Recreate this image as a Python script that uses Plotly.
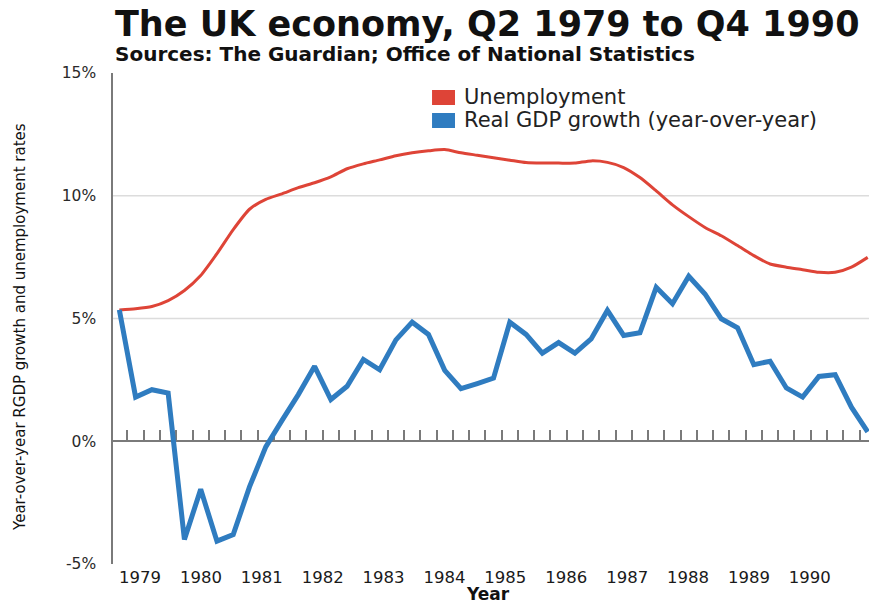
import plotly.graph_objects as go

# Quarterly series, Q2 1979 .. Q4 1990 (47 quarters)
quarters = [f"Q{q} {y}" for y in range(1979, 1991) for q in range(1, 5)][1:]

unemployment = [
    5.35, 5.40, 5.49, 5.73, 6.14, 6.75, 7.64, 8.62, 9.45, 9.85,
    10.08, 10.33, 10.53, 10.77, 11.10, 11.30, 11.46, 11.63, 11.75, 11.83,
    11.88, 11.75, 11.65, 11.55, 11.45, 11.35, 11.33, 11.33, 11.33, 11.42,
    11.36, 11.15, 10.74, 10.20, 9.63, 9.15, 8.71, 8.37, 7.97, 7.56,
    7.22, 7.09, 6.99, 6.88, 6.88, 7.09, 7.49,
]

gdp_growth = [
    5.35, 1.80, 2.10, 1.96, -4.00, -1.96, -4.07, -3.80, -1.86, -0.23,
    0.85, 1.90, 3.05, 1.70, 2.24, 3.33, 2.91, 4.13, 4.85, 4.35,
    2.89, 2.14, 2.35, 2.57, 4.85, 4.35, 3.59, 4.02, 3.59, 4.17,
    5.33, 4.31, 4.42, 6.27, 5.60, 6.72, 6.00, 4.99, 4.62, 3.12,
    3.26, 2.17, 1.80, 2.64, 2.71, 1.39, 0.38,
]

years = ["1979", "1980", "1981", "1982", "1983", "1984",
         "1985", "1986", "1987", "1988", "1989", "1990"]

y_ticks = [-5, 0, 5, 10, 15]
y_labels = ["-5%", "0%", "5%", "10%", "15%"]
grid_levels = [5, 10]

series_names = ["Unemployment", "Real GDP growth (year-over-year)"]
RED = "#DE4437"
BLUE = "#2F7CC0"
FONT = "DejaVu Sans"

x_idx = list(range(len(quarters)))
# year labels sit evenly along the bottom
year_pos = [1.27 + 3.743 * k for k in range(len(years))]
# small quarter marks on the zero line, between consecutive observations
quarter_marks = [i + 0.5 for i in range(len(quarters) - 1)]

fig = go.Figure()

fig.add_trace(go.Scatter(
    x=x_idx, y=unemployment, mode="lines", name=series_names[0],
    line=dict(color=RED, width=3, shape="spline", smoothing=0.6),
    text=quarters, hovertemplate="%{text}: %{y:.1f}%<extra></extra>",
))
fig.add_trace(go.Scatter(
    x=x_idx, y=gdp_growth, mode="lines", name=series_names[1],
    xaxis="x2",
    line=dict(color=BLUE, width=5),
    text=quarters, hovertemplate="%{text}: %{y:.1f}%<extra></extra>",
))

shapes = []
for lvl in grid_levels:
    shapes.append(dict(type="line", xref="paper", x0=0, x1=1, yref="y", y0=lvl, y1=lvl,
                       line=dict(color="#DCDCDC", width=1.3), layer="below"))

# legend swatches
swatch_rows = [(0.9654, 0.9348, RED), (0.9185, 0.8880, BLUE)]
for y0, y1, c in swatch_rows:
    shapes.append(dict(type="rect", xref="paper", yref="paper",
                       x0=0.422, x1=0.4524, y0=y1, y1=y0,
                       fillcolor=c, line=dict(width=0)))

annotations = [
    dict(text="<b>The UK economy, Q2 1979 to Q4 1990</b>", xref="paper", yref="paper",
         x=0.0, y=1.0998, xanchor="left", yanchor="middle", showarrow=False,
         font=dict(family=FONT, size=35, color="#111111")),
    dict(text="<b>Sources: The Guardian; Office of National Statistics</b>",
         xref="paper", yref="paper", x=0.0, y=1.0387, xanchor="left", yanchor="middle",
         showarrow=False, font=dict(family=FONT, size=20, color="#111111")),
    dict(text="Year-over-year RGDP growth and unemployment rates", xref="paper", yref="paper",
         x=-0.123, y=0.4827, xanchor="center", yanchor="middle", textangle=-90,
         showarrow=False, font=dict(family=FONT, size=15, color="#111111")),
    dict(text="<b>Year</b>", xref="paper", yref="paper", x=0.496, y=-0.061,
         xanchor="center", yanchor="middle", showarrow=False,
         font=dict(family=FONT, size=17, color="#111111")),
    dict(text=series_names[0], xref="paper", yref="paper", x=0.4616, y=0.9511,
         xanchor="left", yanchor="middle", showarrow=False,
         font=dict(family=FONT, size=21, color="#222222")),
    dict(text=series_names[1], xref="paper", yref="paper", x=0.4616, y=0.9033,
         xanchor="left", yanchor="middle", showarrow=False,
         font=dict(family=FONT, size=21, color="#222222")),
]

fig.update_layout(
    width=869, height=605,
    margin=dict(l=113, r=0, t=73, b=41),
    plot_bgcolor="white", paper_bgcolor="white",
    showlegend=False,
    font=dict(family=FONT, color="#222222"),
    xaxis=dict(
        range=[-0.39, 46.08], tickvals=year_pos, ticktext=years,
        showgrid=False, zeroline=False, showline=False, ticks="",
        tickfont=dict(family=FONT, size=16.5, color="#1A1A1A"),
        ticklabelstandoff=1,
    ),
    xaxis2=dict(
        matches="x", overlaying="x", anchor="free", position=0.25, side="top",
        showline=True, linecolor="#7A7A7A", linewidth=1.5,
        ticks="outside", ticklen=11, tickwidth=1.5, tickcolor="#7A7A7A",
        tickvals=quarter_marks, showticklabels=False,
        showgrid=False, zeroline=False, layer="below traces",
    ),
    yaxis=dict(
        range=[-5, 15], tickvals=y_ticks, ticktext=y_labels,
        showgrid=False, zeroline=False,
        showline=True, linecolor="#7A7A7A", linewidth=1.5, ticks="",
        tickfont=dict(family=FONT, size=15.5, color="#2A2A2A"),
        ticklabelstandoff=12,
    ),
    shapes=shapes,
    annotations=annotations,
)

fig.write_html("out.html")
